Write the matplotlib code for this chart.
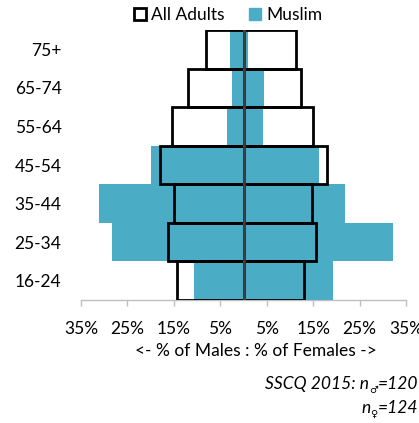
import matplotlib.pyplot as plt
from matplotlib.patches import Patch
from matplotlib.ticker import FixedLocator

plt.rcParams['font.family'] = ['Lato', 'DejaVu Sans']

# data (bottom to top)
ages = ['16-24', '25-34', '35-44', '45-54', '55-64', '65-74', '75+']
all_males = [14.4, 16.3, 15.0, 17.9, 15.3, 12.0, 8.1]
all_females = [13.1, 15.6, 14.8, 17.9, 15.0, 12.4, 11.3]
muslim_males = [10.6, 28.4, 31.1, 19.9, 3.5, 2.5, 2.9]
muslim_females = [19.2, 32.3, 21.9, 16.3, 4.3, 4.5, 1.0]
xticks = [-35, -25, -15, -5, 5, 15, 25, 35]
xtick_labels = ['35%', '25%', '15%', '5%', '5%', '15%', '25%', '35%']

W, H = 419, 423
FS = 12.5
fig = plt.figure(figsize=(W / 100, H / 100), dpi=100)
ax = fig.add_axes([81 / W, 1 - 300 / H, 325 / W, 270 / H])

y = range(len(ages))
teal = '#4BACC6'

# Muslim bars (filled)
ax.barh(y, [-v for v in muslim_males], height=1.0, color=teal, zorder=1)
ax.barh(y, muslim_females, height=1.0, color=teal, zorder=1)

# All adults (outlined)
ax.barh(y, [-v for v in all_males], height=1.0, fill=False,
        edgecolor='black', linewidth=2, zorder=3)
ax.barh(y, all_females, height=1.0, fill=False,
        edgecolor='black', linewidth=2, zorder=3)
ax.axvline(0, color='#404040', lw=2, zorder=4)

ax.set_xlim(-35, 35)
ax.set_ylim(-0.5, len(ages) - 0.5)

ax.set_yticks(list(y))
ax.set_yticklabels(ages, fontsize=FS)
ax.tick_params(axis='y', length=0, pad=14)

ax.xaxis.set_major_locator(FixedLocator(xticks))
ax.set_xticklabels(xtick_labels, fontsize=FS)
ax.tick_params(axis='x', length=4, width=1, color='#BFBFBF', pad=11)

for s in ['top', 'left', 'right']:
    ax.spines[s].set_visible(False)
ax.spines['bottom'].set_color('#BFBFBF')
ax.spines['bottom'].set_linewidth(1)
ax.spines['bottom'].set_zorder(0)

fig.text(256 / W, 1 - 351 / H, '<- % of Males : % of Females ->',
         ha='center', va='center', fontsize=FS)

# legend
handles = [Patch(facecolor='white', edgecolor='black', linewidth=2),
           Patch(facecolor=teal, edgecolor=teal)]
fig.legend(handles, ['All Adults', 'Muslim'], loc='center',
           bbox_to_anchor=(228 / W, 1 - 15 / H), ncol=2, frameon=False,
           fontsize=FS, handlelength=0.7, handleheight=0.7,
           handletextpad=0.3, columnspacing=1.4, borderpad=0)

# sample size note with subscript symbols
fig.canvas.draw()
renderer = fig.canvas.get_renderer()


def right_chain(x_px, y_px, parts):
    for txt, size, dy in reversed(parts):
        t = fig.text(x_px / W, (H - y_px - dy) / H, txt, ha='right',
                     va='baseline', fontsize=size, style='italic')
        bb = t.get_window_extent(renderer)
        x_px = bb.x0


right_chain(418, 389, [('SSCQ 2015: n', FS, 0), ('♂', 7, 4), ('=120', FS, 0)])
right_chain(418, 413, [('n', FS, 0), ('♀', 7, 4), ('=124', FS, 0)])

fig.savefig('out.png', dpi=100)
